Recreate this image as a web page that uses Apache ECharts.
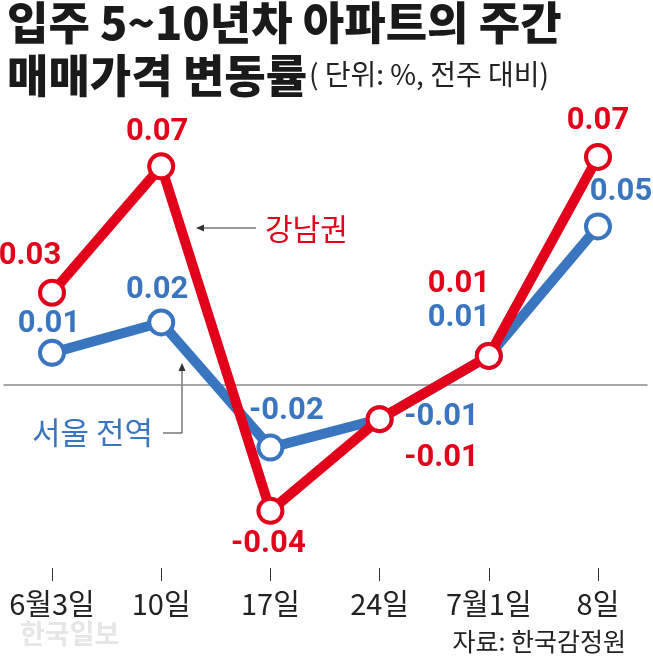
<!DOCTYPE html>
<html><head><meta charset="utf-8">
<script src="https://cdn.jsdelivr.net/npm/echarts@6/dist/echarts.min.js"></script>
<style>html,body{margin:0;padding:0;background:#fff}#c{width:653px;height:661px}</style>
</head><body><div id="c"></div>
<script>
const categories = ['6월3일', '10일', '17일', '24일', '7월1일', '8일'];
const gangnam = [0.029, 0.069, -0.040, -0.011, 0.009, 0.072];
const seoul = [0.010, 0.0196, -0.020, -0.011, 0.009, 0.050];
const gangnamLabelOffsets = [[-22, -37], [-4, -34], [-2, 33], [62, 39], [-30, -72], [0, -36]];
const seoulLabelOffsets = [[-3, -29], [-4, -32], [16, -36], [62, -2], [-30, -38], [23, -34]];

const RED = '#e2001a', BLUE = '#3a76c0';
const NUMFONT = "Roboto, 'Noto Sans CJK KR', sans-serif";
const KFONT = "'Noto Sans CJK KR', sans-serif";
const Y_MIN = -0.058, Y_MAX = 0.09;

function buildData(vals, offs) {
  return vals.map((v, i) => ({ value: v, label: { offset: offs[i] } }));
}
function seriesOf(name, vals, offs, color, z) {
  return {
    name, type: 'line', xAxisIndex: 0, yAxisIndex: 0, z,
    data: buildData(vals, offs),
    symbol: 'circle', symbolSize: 24,
    lineStyle: { width: 10, color },
    itemStyle: { color: '#fff', borderColor: color, borderWidth: 4 },
    label: {
      show: true, position: 'inside', align: 'center', verticalAlign: 'middle',
      color, fontSize: 31, fontWeight: 'bold', fontFamily: NUMFONT,
      formatter: p => p.value.toFixed(2)
    },
    emphasis: { disabled: true },
    animation: false
  };
}
const hiddenY = (gi) => ({ type: 'value', gridIndex: gi, min: Y_MIN, max: Y_MAX, axisLine: { show: false }, axisTick: { show: false }, axisLabel: { show: false }, splitLine: { show: false } });

const chart = echarts.init(document.getElementById('c'));
chart.setOption({
  animation: false,
  grid: [
    { left: 52, right: 55, top: 100, bottom: 93.3 },
    { left: 4, right: 6, top: 100, bottom: 93.3 },
    { left: 52, right: 55, top: 568, bottom: 80 }
  ],
  xAxis: [
    {
      type: 'category', gridIndex: 0, data: categories, boundaryGap: false,
      axisLine: { show: false, onZero: false },
      axisTick: { show: false },
      axisLabel: { color: '#222', fontSize: 29, fontFamily: KFONT, margin: 22, interval: 0, hideOverlap: false },
      splitLine: { show: false }
    },
    {
      type: 'value', gridIndex: 1, min: 0, max: 1,
      axisLine: { show: true, onZero: true, lineStyle: { color: '#8a8a8a', width: 1.5 } },
      axisTick: { show: false }, axisLabel: { show: false }, splitLine: { show: false }
    },
    {
      type: 'category', gridIndex: 2, data: categories, boundaryGap: false,
      axisLine: { show: false, onZero: false }, axisTick: { show: false }, axisLabel: { show: false },
      splitLine: { show: true, interval: 0, lineStyle: { color: '#333', width: 1 } }
    }
  ],
  yAxis: [hiddenY(0), hiddenY(1), { type: 'value', gridIndex: 2, show: false, splitLine: { show: false } }],
  series: [
    seriesOf('서울 전역', seoul, seoulLabelOffsets, BLUE, 2),
    seriesOf('강남권', gangnam, gangnamLabelOffsets, RED, 3)
  ],
  graphic: [
    { type: 'text', left: 7, top: 0, style: { text: '입주 5~10년차 아파트의 주간', fill: '#1a1a1a', font: "900 45px 'Noto Sans CJK KR', sans-serif" } },
    { type: 'text', left: 7, top: 53, style: { text: '매매가격 변동률', fill: '#1a1a1a', font: "900 45px 'Noto Sans CJK KR', sans-serif" } },
    { type: 'text', left: 309, top: 60, style: { text: '( 단위: %, 전주 대비)', fill: '#222', font: "400 28px 'Noto Sans CJK KR', sans-serif" } },
    { type: 'text', x: 265, y: 229, style: { text: '강남권', fill: RED, font: "400 30px 'Noto Sans CJK KR', sans-serif", verticalAlign: 'middle' } },
    { type: 'line', shape: { x1: 256, y1: 228, x2: 201, y2: 228 }, style: { stroke: '#333', lineWidth: 1 } },
    { type: 'polygon', shape: { points: [[196, 228], [204, 224.5], [204, 231.5]] }, style: { fill: '#333' } },
    { type: 'text', x: 32, y: 432, style: { text: '서울 전역', fill: BLUE, font: "400 31px 'Noto Sans CJK KR', sans-serif", verticalAlign: 'middle' } },
    { type: 'polyline', shape: { points: [[163, 433], [182, 433], [182, 369]] }, style: { stroke: '#333', lineWidth: 1, fill: null } },
    { type: 'polygon', shape: { points: [[182, 363], [178.5, 371], [185.5, 371]] }, style: { fill: '#333' } },
    { type: 'text', x: 20, y: 634, style: { text: '한국일보', fill: '#e6e6e6', font: "700 27px 'Noto Sans CJK KR', sans-serif", verticalAlign: 'middle' } },
    { type: 'text', x: 626, y: 641, style: { text: '자료: 한국감정원', fill: '#222', font: "400 25px 'Noto Sans CJK KR', sans-serif", align: 'right', verticalAlign: 'middle' } }
  ]
});
</script></body></html>
